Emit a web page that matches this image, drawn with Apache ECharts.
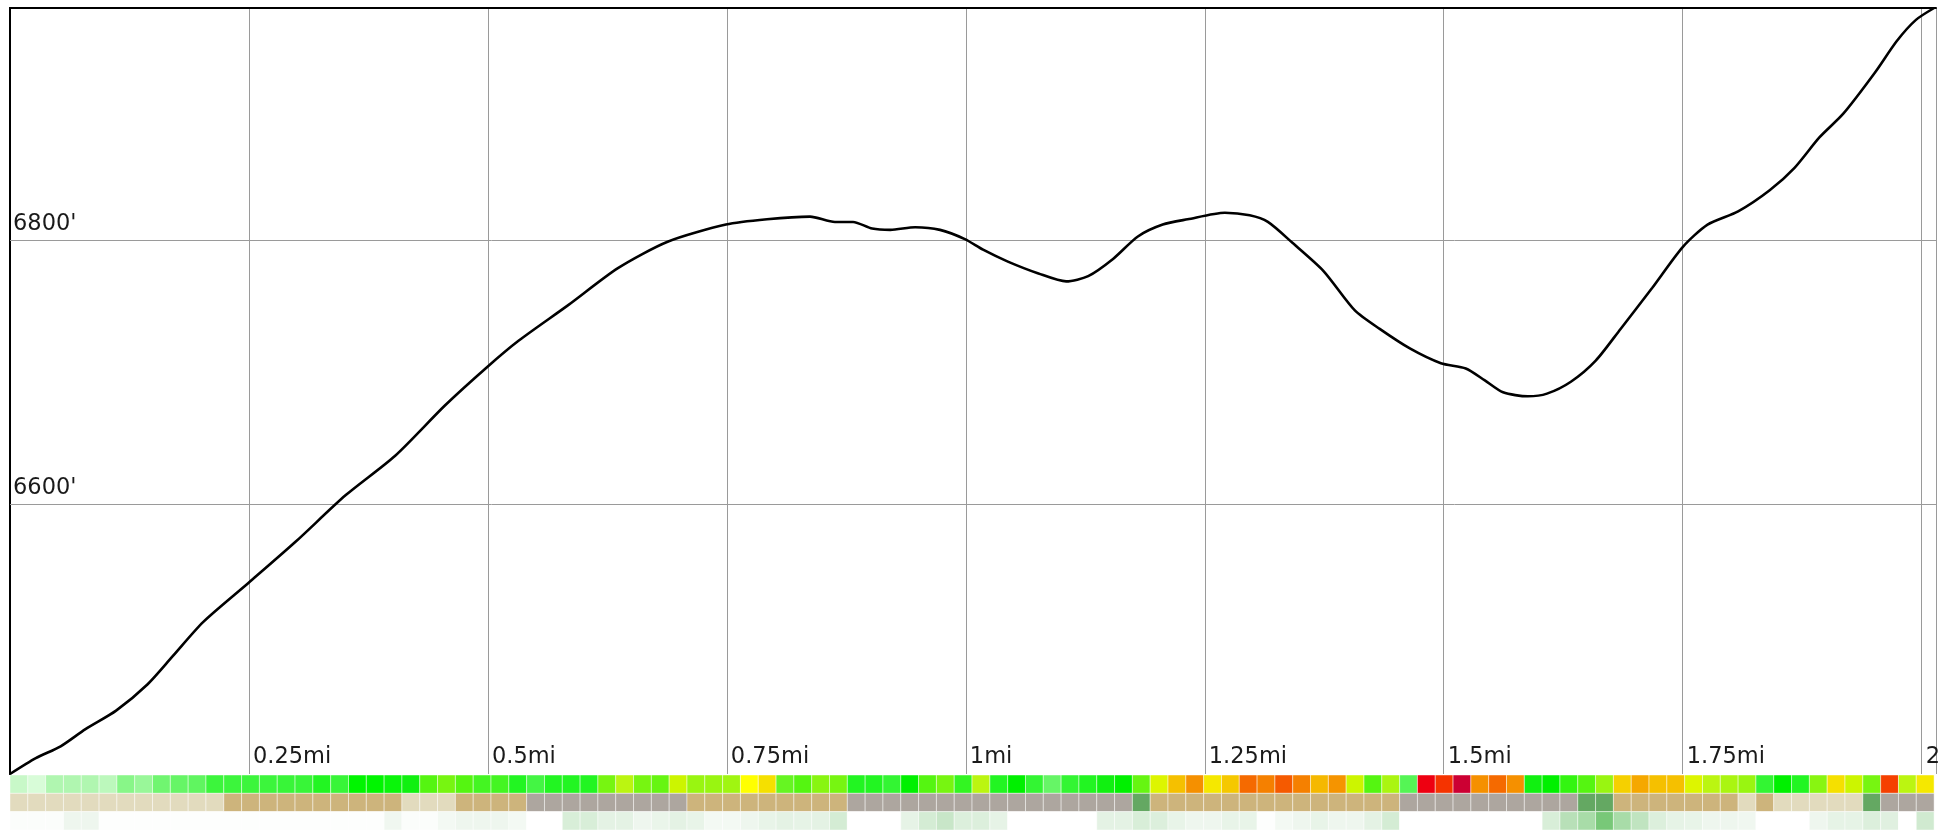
<!DOCTYPE html>
<html>
<head>
<meta charset="utf-8">
<script src="https://cdn.jsdelivr.net/npm/echarts@6/dist/echarts.min.js"></script>
<style>
  html, body { margin: 0; padding: 0; background: #fff; }
  #chart { width: 1939px; height: 830px; }
</style>
</head>
<body>
<div id="chart"></div>
<script>
// Distance along the route (miles) and elevation (feet)
const distances = [0, 0.027, 0.053, 0.079, 0.111, 0.144, 0.170, 0.202, 0.250, 0.299, 0.351, 0.403, 0.455, 0.499, 0.532, 0.584, 0.636, 0.688, 0.749, 0.792, 0.837, 0.863, 0.882, 0.902, 0.921, 0.947, 0.973, 0.999, 1.018, 1.044, 1.076, 1.105, 1.128, 1.154, 1.180, 1.206, 1.232, 1.271, 1.297, 1.316, 1.342, 1.374, 1.407, 1.433, 1.465, 1.497, 1.523, 1.543, 1.562, 1.588, 1.608, 1.633, 1.659, 1.685, 1.718, 1.750, 1.776, 1.808, 1.841, 1.867, 1.893, 1.918, 1.951, 1.974, 1.994, 2.013];
const elevations = [6396, 6408, 6417, 6430, 6444, 6464, 6485, 6511, 6541, 6572, 6607, 6637, 6675, 6704, 6724, 6751, 6779, 6799, 6812, 6816, 6818, 6814, 6814, 6809, 6808, 6810, 6808, 6801, 6793, 6784, 6775, 6769, 6773, 6786, 6803, 6812, 6816, 6821, 6819, 6814, 6798, 6777, 6747, 6733, 6718, 6707, 6703, 6694, 6685, 6682, 6684, 6693, 6709, 6733, 6764, 6795, 6812, 6822, 6838, 6855, 6878, 6896, 6927, 6951, 6967, 6976];
const elevationGridValues = [6600, 6800];

// Strip rows under the profile (one cell per segment)
const gradeRow = ['#c8f8c8','#d8fcd8','#b0f6b0','#b0f6b0','#b0f6b0','#bcf8bc','#88f688','#99f799','#70f570','#66f566',
 '#60f560','#3cf53c','#3cf53c','#3cf53c','#3cf53c','#38f538','#38f538','#22f522','#38f538','#00f500',
 '#00f500','#0af50a','#10f010','#55f511','#77f511','#55f511','#44f522','#44f522','#22f522','#44f544',
 '#22f522','#22f522','#22f522','#77f511','#bbf511','#77f511','#66f511','#ccf500','#99f511','#99f511',
 '#a0f511','#ffff00','#f5e000','#66f522','#55f511','#88f511','#77f511','#22f522','#22f522','#33f533',
 '#00f000','#55f511','#77f511','#33f522','#bbf511','#22f522','#00f000','#33f533','#66f566','#33f533',
 '#22f522','#11f011','#00f000','#66f511','#ddf500','#f5c000','#f59000','#f5e800','#f5c800','#f56a00',
 '#f58000','#f55a00','#f58000','#f5b800','#f59400','#ccf500','#55f511','#aaf511','#55f555','#ee0011',
 '#f53300','#cc0033','#f59000','#f56a00','#f59000','#11f011','#00f000','#33f511','#55f511','#99f511',
 '#f5d000','#f5a800','#f5c000','#f5c000','#ddf500','#bbf511','#aaf511','#99f511','#33f533','#00f000',
 '#22f522','#88f511','#f5e000','#ccf500','#77f511','#f54000','#bbf511','#f5e800'];
const surfaceRow = ('BBBBBBBBBBBB' + 'TTTTTTTTTT' + 'BBB' + 'TTTT' + 'GGGGGGGGG' + 'TTTTTTTTT' +
  'GGGGGGGGGGGGGGGG' + 'D' + 'TTTTTTTTTTTTTT' + 'GGGGGGGGGG' + 'DD' + 'TTTTTTT' + 'B' + 'T' + 'BBBBB' + 'D' + 'GGG').split('');
const surfaceColors = { B: '#e2dbbe', T: '#cdb47c', G: '#ada69f', D: '#64a862' };
const canopyRow = ['#fbfdfb','#fbfdfb','#fbfdfb','#eef6ee','#eef6ee','#fdfefd','#fdfefd','#fdfefd','#fdfefd','#fdfefd',
 '#fdfefd','#fdfefd','#fdfefd','#fdfefd','#fdfefd','#fdfefd','#fdfefd','#fdfefd','#fdfefd','#fdfefd',
 '#fdfefd','#f0f7f0','#fbfdfb','#fbfdfb','#f3f9f3','#eef6ee','#eef6ee','#eef6ee','#f3f9f3','#ffffff',
 '#ffffff','#d8eed8','#d8eed8','#e4f2e4','#e4f2e4','#eef6ee','#eaf5ea','#e4f2e4','#e8f4e8','#f3f9f3',
 '#f3f9f3','#eef6ee','#e8f4e8','#e4f2e4','#e6f3e6','#e4f2e4','#d4ecd4','#ffffff','#ffffff','#ffffff',
 '#e6f3e6','#d4ecd4','#c8e6c8','#dcefdc','#dcefdc','#e6f3e6','#ffffff','#ffffff','#ffffff','#ffffff',
 '#ffffff','#e4f2e4','#e4f2e4','#d8eed8','#dcefdc','#e8f4e8','#eef6ee','#eef6ee','#e8f4e8','#e8f4e8',
 '#fdfefd','#f3f9f3','#eef6ee','#e8f4e8','#eef6ee','#eef6ee','#e4f2e4','#d4ecd4','#ffffff','#ffffff',
 '#ffffff','#ffffff','#ffffff','#ffffff','#ffffff','#ffffff','#d8eed8','#b8e0b8','#a8dca8','#78c878',
 '#a8dca8','#c0e4c0','#dcefdc','#e6f3e6','#e8f4e8','#eef6ee','#eef6ee','#f0f7f0','#ffffff','#ffffff',
 '#ffffff','#eef6ee','#e6f3e6','#e6f3e6','#dcefdc','#e0f0e0','#ffffff','#d0ead0'];

const rows = [gradeRow, surfaceRow.map(c => surfaceColors[c]), canopyRow];
const cellCount = gradeRow.length;
const stripData = [];
const stripColors = [];
rows.forEach((row, r) => row.forEach((col, i) => { stripData.push([i, r]); stripColors.push(col); }));

const routeLength = distances[distances.length - 1];
const xAxisMax = 2.015;
const yMin = elevations[0];
const yMax = elevations[elevations.length - 1];
const FONT = 'DejaVu Sans';
const FONT_SIZE = 22.5;

const chart = echarts.init(document.getElementById('chart'), null, { renderer: 'canvas' });
chart.setOption({
  animation: false,
  backgroundColor: '#ffffff',
  grid: [
    { left: 10, right: 3, top: 8, bottom: 56, outerBoundsMode: 'none', containLabel: false },
    { left: 10, right: 3, top: 775, bottom: 0, outerBoundsMode: 'none', containLabel: false }
  ],
  xAxis: [
    {
      type: 'value', gridIndex: 0, min: 0, max: xAxisMax, interval: 0.25,
      axisLine: { show: false }, axisTick: { show: false },
      splitLine: { show: true, lineStyle: { color: '#9a9a9a', width: 1 } },
      axisLabel: {
        inside: true, align: 'left', margin: 5, padding: [0, 0, 0, 4],
        fontFamily: FONT, fontSize: FONT_SIZE, color: '#1a1a1a',
        showMinLabel: false, showMaxLabel: false, hideOverlap: false,
        formatter: v => (v > 0 && Math.abs(v * 4 - Math.round(v * 4)) < 1e-6) ? (+v.toFixed(2)) + 'mi' : ''
      }
    },
    {
      type: 'value', gridIndex: 0, position: 'top', min: 0, max: xAxisMax,
      axisLine: { show: true, lineStyle: { color: '#000', width: 2 } },
      axisTick: { show: false }, axisLabel: { show: false }, splitLine: { show: false }
    },
    { type: 'value', gridIndex: 1, min: 0, max: xAxisMax, show: false }
  ],
  yAxis: [
    {
      type: 'value', gridIndex: 0, min: yMin, max: yMax,
      axisLine: { show: true, lineStyle: { color: '#000', width: 2 } },
      axisTick: { show: false }, axisLabel: { show: false }, splitLine: { show: false }
    },
    {
      type: 'value', gridIndex: 0, position: 'right', min: yMin, max: yMax,
      axisLine: { show: true, lineStyle: { color: '#000', width: 2 } },
      axisTick: { show: false }, axisLabel: { show: false }, splitLine: { show: false }
    },
    { type: 'category', gridIndex: 1, data: ['grade', 'surface', 'canopy'], inverse: true, show: false }
  ],
  series: [
    {
      type: 'line', xAxisIndex: 0, yAxisIndex: 0,
      data: distances.map((d, i) => [d, elevations[i]]),
      showSymbol: false, symbol: 'none', smooth: 0.25,
      lineStyle: { color: '#000', width: 2.6 },
      z: 5,
      markLine: {
        silent: true, symbol: 'none', animation: false,
        lineStyle: { color: '#9a9a9a', width: 1, type: 'solid' },
        label: {
          position: 'insideStartTop', distance: [3, 5],
          fontFamily: FONT, fontSize: FONT_SIZE, color: '#1a1a1a',
          formatter: p => p.value + "'"
        },
        data: elevationGridValues.map(v => ({ yAxis: v }))
      }
    },
    {
      type: 'custom', xAxisIndex: 2, yAxisIndex: 2,
      data: stripData,
      renderItem: (params, api) => {
        const i = api.value(0), r = api.value(1);
        const segW = routeLength / cellCount;
        const p0 = api.coord([i * segW, r]);
        const p1 = api.coord([(i + 1) * segW, r]);
        const h = api.size([0, 1])[1];
        return {
          type: 'rect',
          shape: { x: p0[0], y: p0[1] - h / 2, width: p1[0] - p0[0], height: h },
          style: { fill: stripColors[params.dataIndex], stroke: 'rgba(255,255,255,0.45)', lineWidth: 1 }
        };
      }
    }
  ]
});
</script>
</body>
</html>
